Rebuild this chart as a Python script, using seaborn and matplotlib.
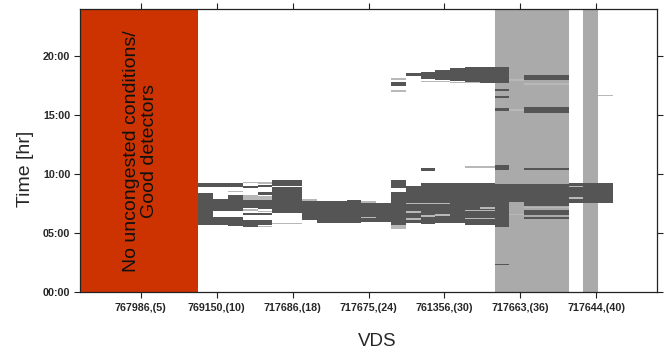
import numpy as np
import pandas as pd
import matplotlib
matplotlib.use("Agg")
import matplotlib.pyplot as plt
import seaborn as sns

# x axis: detector stations
tick_pos = [5, 10, 15, 20, 25, 30, 35]
tick_labels = ["767986,(5)", "769150,(10)", "717686,(18)", "717675,(24)",
               "761356,(30)", "717663,(36)", "717644,(40)"]
hour_ticks = [0, 5, 10, 15, 20]
hour_labels = ["00:00", "05:00", "10:00", "15:00", "20:00"]

# congested periods (dark): detector slot, slots covered, start [hr], end [hr]
dark_col = [0, 0, 1, 1, 1, 2, 2, 2, 3, 3, 3, 3, 4, 4, 4, 4, 4, 5, 5, 7, 8, 10, 11,
            13, 13, 13, 14, 14, 15, 15, 15, 16, 16, 17, 17, 18, 18,
            20, 20, 20, 20, 20, 20, 21, 22, 22, 22, 22, 22, 22, 25, 26, 27, 20]
dark_span = [1, 1, 1, 1, 1, 1, 1, 1, 1, 1, 1, 1, 1, 1, 1, 1, 1, 2, 2, 1, 2, 1, 2,
             1, 1, 1, 1, 1, 1, 1, 1, 1, 1, 1, 1, 2, 2,
             1, 1, 1, 1, 1, 1, 1, 3, 3, 3, 3, 3, 3, 1, 1, 1, 1]
dark_start = [8.90, 5.71, 8.90, 6.92, 5.71, 8.90, 6.92, 5.62, 8.81, 7.11, 6.55, 5.56,
              8.90, 8.24, 7.03, 6.55, 5.71, 9.01, 6.69, 6.13, 5.90, 5.90, 5.98,
              8.81, 5.50, 17.50, 5.84, 18.30, 5.75, 10.30, 18.10, 5.84, 18.00,
              5.84, 17.90, 5.70, 17.75,
              5.56, 10.37, 15.40, 16.45, 17.05, 17.70, 7.68, 7.31, 6.55, 6.20,
              15.20, 18.00, 10.36, 7.54, 7.54, 7.54, 2.30]
dark_end = [9.24, 8.44, 9.24, 7.88, 6.41, 9.24, 8.24, 6.35, 9.01, 7.82, 6.75, 6.13,
            9.09, 8.53, 7.82, 6.69, 6.13, 9.52, 8.90, 7.76, 7.76, 7.82, 7.60,
            9.52, 8.53, 17.85, 9.05, 18.56, 9.30, 10.50, 18.70, 9.30, 18.84,
            9.30, 19.00, 9.30, 19.12,
            9.17, 10.79, 15.60, 16.60, 17.20, 19.12, 9.17, 9.17, 6.97, 6.41,
            15.70, 18.40, 10.50, 9.24, 9.30, 9.24, 2.40]

# short / partial periods (light grey)
light_col = [2, 3, 3, 3, 4, 4, 4, 4, 5, 7, 13, 13, 13, 14, 14, 14, 15, 15, 16, 16,
             11, 11, 18, 18, 18, 19, 15, 17, 21, 21, 21, 22, 22, 27, 25, 25]
light_span = [1, 1, 1, 1, 1, 1, 1, 1, 2, 1, 1, 1, 1, 1, 1, 1, 1, 1, 1, 1,
              1, 1, 2, 2, 2, 1, 2, 2, 1, 1, 1, 3, 3, 1, 1, 1]
light_start = [8.53, 9.24, 7.82, 6.92, 9.20, 7.82, 6.83, 5.51, 5.79, 7.76, 5.34, 18.00,
               17.00, 7.50, 6.70, 6.15, 7.50, 6.40, 7.50, 6.45,
               6.27, 7.60, 10.55, 6.90, 6.20, 7.10, 17.85, 17.70, 17.95, 15.40,
               6.55, 17.55, 7.15, 16.68, 8.92, 7.90]
light_end = [8.61, 9.38, 8.24, 7.03, 9.38, 8.16, 6.92, 5.62, 5.85, 7.88, 5.71, 18.13,
             17.15, 7.60, 6.85, 6.30, 7.60, 6.55, 7.60, 6.60,
             6.41, 7.70, 10.70, 7.00, 6.30, 7.20, 17.95, 17.80, 18.05, 15.50,
             6.65, 17.70, 7.25, 16.76, 9.05, 8.05]

# detector slots marked as bad (grey background)
bad_col = [20, 26]
bad_span = [5, 1]

X0, W = 8.8, 0.975      # slot layout on the x scale
XMIN, XMAX = 1, 39

dark = pd.DataFrame({"col": dark_col, "span": dark_span,
                     "start": dark_start, "end": dark_end})
light = pd.DataFrame({"col": light_col, "span": light_span,
                      "start": light_start, "end": light_end})
for df in (dark, light):
    df["x"] = X0 + df["col"] * W
    df["w"] = df["span"] * W
    df["h"] = df["end"] - df["start"]

sns.set_theme(style="ticks")
plt.rcParams["font.family"] = ["Liberation Sans", "DejaVu Sans"]

fig = plt.figure(figsize=(6.67, 3.53), dpi=100)
ax = fig.add_axes([0.12, 0.172, 0.865, 0.802])

ax.axvspan(XMIN, X0, color="#cc3300", lw=0, zorder=0)
for c, s in zip(bad_col, bad_span):
    ax.axvspan(X0 + c * W, X0 + (c + s) * W, color="#aaaaaa", lw=0, zorder=0)

ax.bar(dark["x"], dark["h"], bottom=dark["start"], width=dark["w"],
       align="edge", color="#555555", lw=0, zorder=2)
ax.bar(light["x"], light["h"], bottom=light["start"], width=light["w"],
       align="edge", color="#b8b8b8", lw=0, zorder=3)

ax.text((XMIN + X0) / 2 + 0.1, 12, "No uncongested conditions/\nGood detectors",
        rotation=90, ha="center", va="center", multialignment="center",
        fontsize=14, linespacing=1.1, color="#111111")

ax.set_xlim(XMIN, XMAX)
ax.set_ylim(0, 24)
ax.set_xticks(tick_pos)
ax.set_xticklabels(tick_labels, fontsize=7.7, fontweight="bold")
ax.set_yticks(hour_ticks)
ax.set_yticklabels(hour_labels, fontsize=7.7, fontweight="bold")
ax.tick_params(axis="both", direction="out", top=True, right=True,
               labeltop=False, labelright=False, length=4.5, width=0.8,
               color="#222222")
ax.tick_params(axis="x", pad=3)
ax.tick_params(axis="y", pad=2.5)
for sp in ax.spines.values():
    sp.set_color("#222222")
    sp.set_linewidth(0.9)

ax.set_xlabel("VDS", fontsize=13.5)
ax.set_ylabel("Time [hr]", fontsize=14)
ax.xaxis.set_label_coords(0.515, -0.145)
ax.yaxis.set_label_coords(-0.08, 0.436)

fig.savefig("out.png", dpi=100)
